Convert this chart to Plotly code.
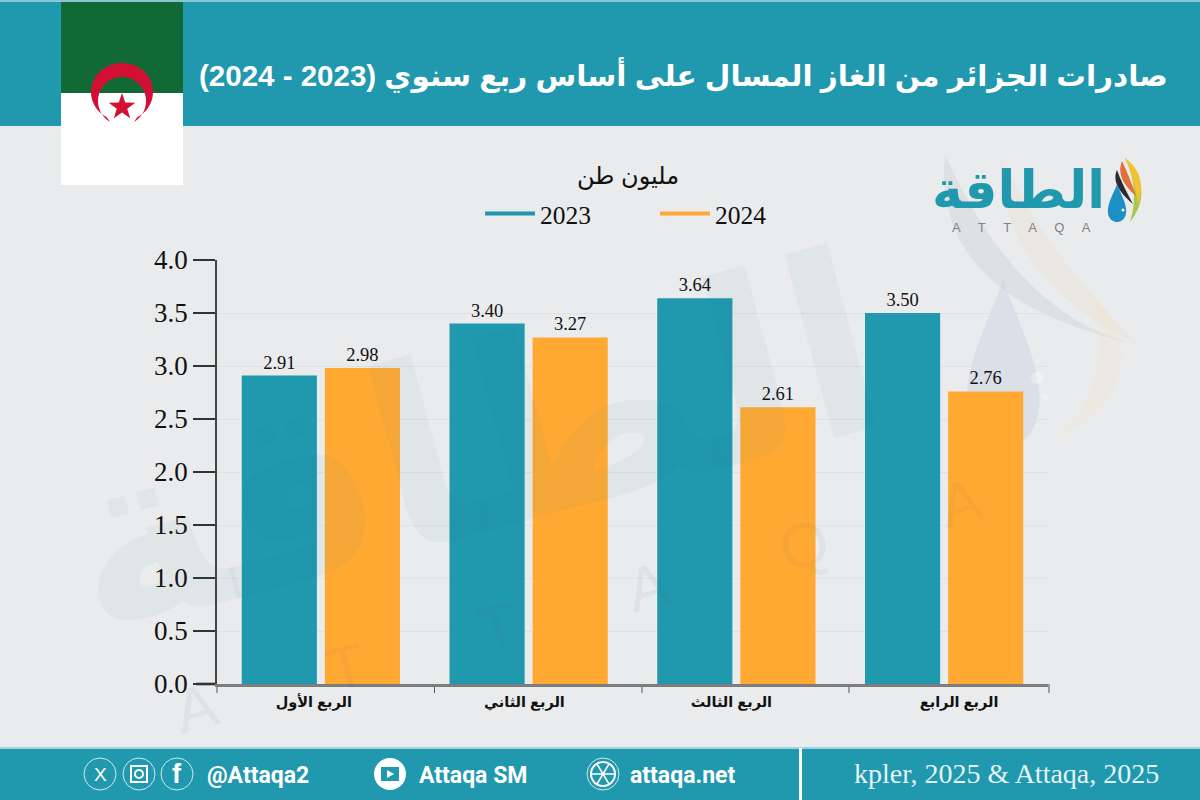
import math
import plotly.graph_objects as go

categories = ["الربع الأول", "الربع الثاني", "الربع الثالث", "الربع الرابع"]
values_2023 = [2.91, 3.40, 3.64, 3.50]
values_2024 = [2.98, 3.27, 2.61, 2.76]
y_ticks = [0, 0.5, 1, 1.5, 2, 2.5, 3, 3.5, 4]
title = "\u202Bصادرات الجزائر من الغاز المسال على أساس ربع سنوي (2023 - 2024)\u202C"
unit = "مليون طن"
source = "kpler, 2025 & Attaqa, 2025"

TEAL = "#2098ae"
ORANGE = "#ffa932"
BG = "#eaebed"
SERIF = "Liberation Serif"
AR = "Liberation Sans, DejaVu Sans"

L, T, W, H = 217, 260, 831, 424
def X(p): return (p - L) / W
def Y(p): return (T + H - p) / H

shapes, ann = [], []
def rect(x0, y0, x1, y1, color, layer="below"):
    shapes.append(dict(type="rect", xref="paper", yref="paper", x0=X(x0), x1=X(x1), y0=Y(y0), y1=Y(y1),
                       fillcolor=color, line_width=0, layer=layer))
def line(x0, y0, x1, y1, color, w=1, layer="below"):
    shapes.append(dict(type="line", xref="paper", yref="paper", x0=X(x0), x1=X(x1), y0=Y(y0), y1=Y(y1),
                       line=dict(color=color, width=w), layer=layer))
def circle(cx, cy, r, fill="rgba(0,0,0,0)", lc="rgba(0,0,0,0)", w=1, layer="below"):
    shapes.append(dict(type="circle", xref="paper", yref="paper", x0=X(cx - r), x1=X(cx + r), y0=Y(cy + r), y1=Y(cy - r),
                       fillcolor=fill, line=dict(color=lc, width=w), layer=layer))
def poly(pts, fill, layer="below"):
    path = "M " + " L ".join(f"{X(a):.5f},{Y(b):.5f}" for a, b in pts) + " Z"
    shapes.append(dict(type="path", xref="paper", yref="paper", path=path, fillcolor=fill,
                       line=dict(color="rgba(0,0,0,0)", width=0), layer=layer))
def swoosh(p0, c1, p1, c2, fill):
    def q(a, c, b, n=16):
        return [((1 - t) ** 2 * a[0] + 2 * t * (1 - t) * c[0] + t * t * b[0],
                 (1 - t) ** 2 * a[1] + 2 * t * (1 - t) * c[1] + t * t * b[1]) for t in [i / n for i in range(n + 1)]]
    poly(q(p0, c1, p1) + q(p1, c2, p0), fill)
def drop(cx, top, r, h, fill):
    pts = []
    for i in range(60):
        t = 2 * math.pi * i / 60
        pts.append((cx + r * math.sin(t) * math.sin(t / 2) ** 1.5, top + h * (1 - math.cos(t)) / 2))
    poly(pts, fill)
def text(x, y, s, size, color, font=SERIF, anchor="center", angle=0, bold=False):
    ann.append(dict(xref="paper", yref="paper", x=X(x), y=Y(y), text=f"<b>{s}</b>" if bold else s, showarrow=False,
                    xanchor=anchor, yanchor="middle", textangle=angle, font=dict(family=font, size=size, color=color)))

# panels
rect(0, 0, 1200, 800, BG)
rect(0, 0, 1200, 2, "#8ac6d2")
rect(0, 2, 1200, 126, TEAL)
rect(0, 748, 1200, 800, TEAL)
rect(0, 747, 1200, 749, "#9fd3dd")
rect(799, 748, 802, 800, "#ffffff")

# flag
rect(61, 2, 183, 93, "#116a36")
rect(61, 93, 183, 185, "#ffffff")
cres = []
for i in range(61):
    a = math.radians(-240 + 300 * i / 60)
    cres.append((122 + 31 * math.cos(a), 92 + 29 * math.sin(a)))
for i in range(61):
    a = math.radians(60 - 300 * i / 60)
    cres.append((122 + 24 * math.cos(a), 101 + 24 * math.sin(a)))
poly(cres, "#d21034")
star = []
for i in range(10):
    r = 14 if i % 2 == 0 else 5.5
    a = math.radians(-90 + 36 * i)
    star.append((122 + r * math.cos(a), 107 + r * math.sin(a)))
poly(star, "#d21034")

# faint decorations at right
swoosh((945, 155), (930, 300), (1140, 345), (1020, 320), "rgba(150,150,165,0.12)")
swoosh((1000, 155), (1000, 280), (1140, 345), (1050, 260), "rgba(235,190,140,0.10)")
drop(1003, 278, 52, 170, "rgba(150,170,205,0.17)")
swoosh((1090, 290), (1170, 380), (1050, 445), (1120, 380), "rgba(245,230,170,0.14)")
circle(1037, 378, 6, fill="rgba(255,255,255,0.35)")
circle(1045, 397, 3, fill="rgba(255,255,255,0.35)")

# logo drop & stripes
swoosh((1125, 158), (1155, 190), (1130, 222), (1140, 190), "#a9c84a")
swoosh((1125, 158), (1148, 175), (1138, 205), (1135, 180), "#f2c230")
swoosh((1122, 161), (1115, 178), (1136, 196), (1130, 178), "#e2703a")
swoosh((1117, 170), (1110, 185), (1133, 204), (1122, 184), "#2a2a32")
drop(1117, 184, 13, 38, "#1c8fc4")
circle(1123, 210, 1.5, fill="#ffffff")

text(1018, 190, "الطاقة", 52, TEAL, AR, bold=True)
text(1021, 227, "A     T     T     A     Q     A", 13, "#808285", "Liberation Sans")

# watermark text
text(472, 445, "الطاقة", 250, "rgba(32,110,150,0.05)", AR, angle=-15, bold=True)
text(578, 605, "A       T       T       A       Q       A", 62, "rgba(80,90,100,0.06)", "Liberation Sans", angle=-15)

# axis extras
line(196, 684, 217, 684, "#7d7d7d", 3)
for p in [434.5, 642, 849, 1049]:
    line(p, 684, p, 693, "#555555", 1)
line(217, 684, 217, 693, "#555555", 1)

# header and footer texts
text(1170, 75, title, 29.5, "#ffffff", AR, anchor="right", bold=True)
text(628, 176, unit, 24, "#111111", AR)
text(1161, 773, source, 28, "#e4f3f6", SERIF, anchor="right")
text(205, 775, "@Attaqa2", 23, "#ffffff", "Roboto", anchor="left", bold=True)
text(417, 775, "Attaqa SM", 23, "#ffffff", "Roboto", anchor="left", bold=True)
text(628, 775, "attaqa.net", 23, "#ffffff", "Roboto", anchor="left", bold=True)

# footer icons
for c in (100, 139, 177):
    circle(c, 774, 16, lc="#cfe8ed", w=1)
text(100, 774, "X", 19, "#ffffff", "Liberation Sans")
shapes.append(dict(type="rect", xref="paper", yref="paper", x0=X(131), x1=X(147), y0=Y(782), y1=Y(766),
                   line=dict(color="#ffffff", width=2), fillcolor="rgba(0,0,0,0)", layer="below"))
circle(139, 774, 4, lc="#ffffff", w=2)
text(177, 774, "f", 27, "#ffffff", "Liberation Sans", bold=True)
circle(390, 774, 16, fill="#ffffff")
rect(381, 767, 399, 781, TEAL)
poly([(387, 770), (394, 774), (387, 778)], "#ffffff")
circle(603, 774, 16, lc="#cfe8ed", w=1)
circle(603, 774, 12, lc="#ffffff", w=2)
line(592, 774, 614, 774, "#ffffff", 1.5)
line(597, 764, 609, 784, "#ffffff", 1.5)
line(609, 764, 597, 784, "#ffffff", 1.5)

x = list(range(len(categories)))
label_pos = [-0.034, 0.98, 1.976, 3.072]
fig = go.Figure()
fig.add_bar(x=x, y=values_2023, name="2023", marker=dict(color=TEAL, line_width=0), showlegend=False,
            text=[f"{v:.2f}" for v in values_2023], textposition="outside", cliponaxis=False,
            textangle=0, textfont=dict(family=SERIF, size=18.5, color="#111111"))
fig.add_bar(x=x, y=values_2024, name="2024", marker=dict(color=ORANGE, line_width=0), showlegend=False,
            text=[f"{v:.2f}" for v in values_2024], textposition="outside", cliponaxis=False,
            textangle=0, textfont=dict(family=SERIF, size=18.5, color="#111111"))
fig.add_scatter(x=[None], y=[None], mode="lines", name="2023", line=dict(color=TEAL, width=4))
fig.add_scatter(x=[None], y=[None], mode="lines", name="2024", line=dict(color=ORANGE, width=4))

fig.update_layout(
    width=1200, height=800, margin=dict(l=L, r=1200 - L - W, t=T, b=800 - T - H),
    paper_bgcolor=BG, plot_bgcolor="rgba(0,0,0,0)",
    barmode="group", bargap=0.2, bargroupgap=0.096,
    shapes=shapes, annotations=ann,
    legend=dict(orientation="h", x=X(480), y=Y(214), xanchor="left", yanchor="middle", itemwidth=50,
                entrywidth=110, font=dict(family=SERIF, size=25.5, color="#111111"), bgcolor="rgba(0,0,0,0)"),
    xaxis=dict(range=[-0.5, 3.5], tickmode="array", tickvals=label_pos, ticktext=[f"<b>{c}</b>" for c in categories],
               showgrid=False, zeroline=False, showline=True, linecolor="#7d7d7d", linewidth=3, ticks="",
               tickfont=dict(family=AR, size=14.5, color="#111111"), ticklabelstandoff=3),
    yaxis=dict(range=[0, 4], tickmode="array", tickvals=y_ticks, ticktext=[f"{v:.1f}" for v in y_ticks],
               showgrid=True, gridcolor="#dfe1e3", gridwidth=1, zeroline=False, showline=True,
               linecolor="#444444", linewidth=1.5, ticks="outside", ticklen=22, tickcolor="#333333", tickwidth=1.5,
               tickfont=dict(family=SERIF, size=27, color="#111111")),
)
fig.write_html("out.html", config=dict(displayModeBar=False),
               post_script="document.body.style.margin='0';document.body.style.overflow='hidden';")
